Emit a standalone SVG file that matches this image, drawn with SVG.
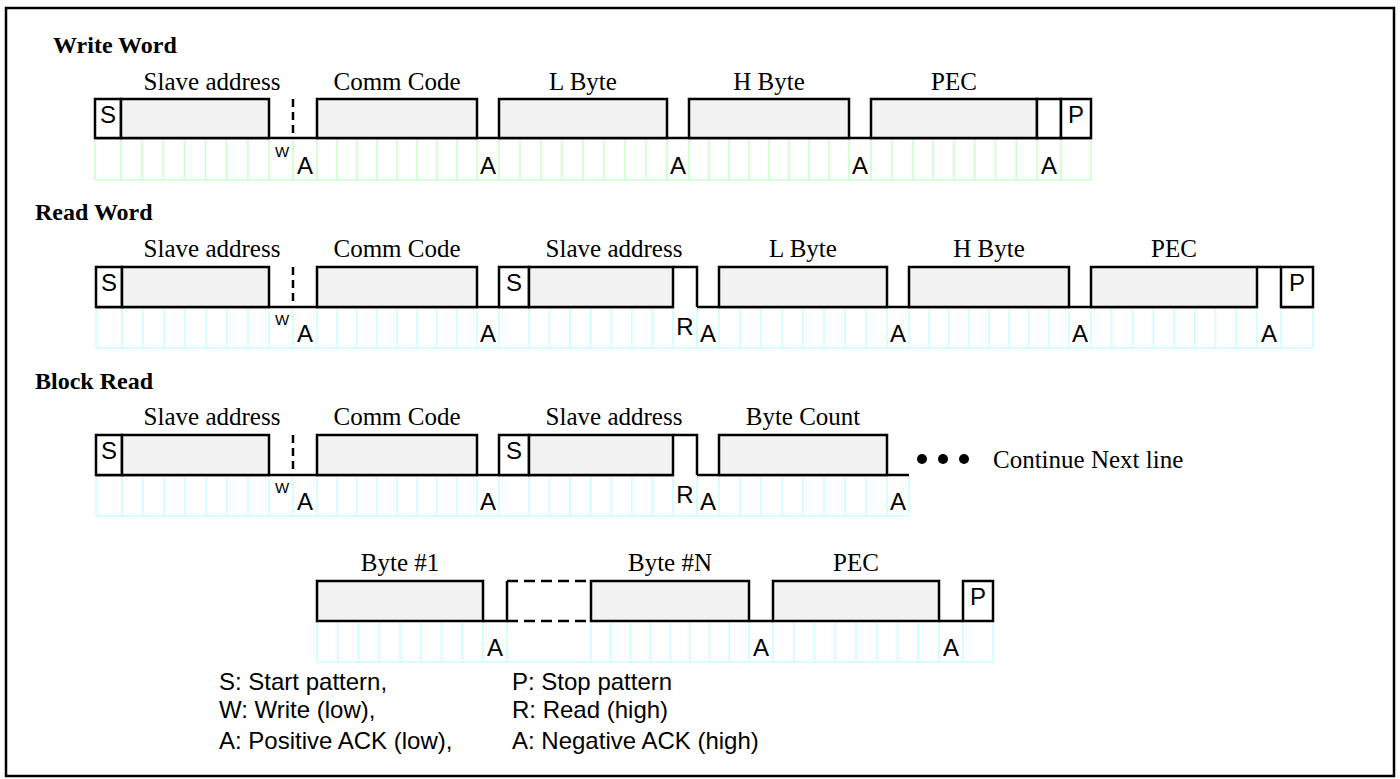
<svg xmlns="http://www.w3.org/2000/svg" width="1400" height="779" viewBox="0 0 1400 779">
<style>
.bg{fill:#ffffff}
.frame{fill:none;stroke:#000;stroke-width:2.5}
.fld{fill:#f2f2f2;stroke:#000;stroke-width:2.5}
.bit{fill:#ffffff;stroke:#000;stroke-width:2.5}
.wave{fill:none;stroke:#000;stroke-width:2.5}
.dash{fill:none;stroke:#000;stroke-width:2.5;stroke-dasharray:8 5}
.dash2{fill:none;stroke:#000;stroke-width:2.5;stroke-dasharray:11 6}
.gridg{fill:none;stroke:#ccffcc;stroke-width:1.6}
.gridc{fill:none;stroke:#ccffff;stroke-width:1.6}
.title{font-family:"Liberation Serif","Times New Roman",serif;font-weight:bold;font-size:24px;fill:#000}
.lbl{font-family:"Liberation Serif","Times New Roman",serif;font-size:25px;fill:#000;text-anchor:middle}
.sig{font-family:"Liberation Sans",Arial,sans-serif;font-size:24px;fill:#000;text-anchor:middle}
.sm{font-family:"Liberation Sans",Arial,sans-serif;font-size:15px;fill:#000;text-anchor:middle}
.leg{font-family:"Liberation Sans",Arial,sans-serif;font-size:24px;fill:#000}
</style>
<rect class="bg" x="0" y="0" width="1400" height="779"/>
<rect class="frame" x="6" y="8" width="1388" height="768"/>

<!-- Write Word -->
<g id="write-word">
  <text class="title" x="53" y="53">Write Word</text>
  <g id="ww-grid">
    <path class="gridg" d="M95 180H1091 M95 138v42 M121 138v42 M142.1 138v42 M163.3 138v42 M184.4 138v42 M205.6 138v42 M226.7 138v42 M247.9 138v42 M269 138v42 M293 138v42 M317 138v42 M337 138v42 M357 138v42 M377 138v42 M397 138v42 M417 138v42 M437 138v42 M457 138v42 M477 138v42 M499 138v42 M520 138v42 M541 138v42 M562 138v42 M583 138v42 M604 138v42 M625 138v42 M646 138v42 M667 138v42 M689 138v42 M709 138v42 M729 138v42 M749 138v42 M769 138v42 M789 138v42 M809 138v42 M829 138v42 M849 138v42 M871 138v42 M891.75 138v42 M912.5 138v42 M933.25 138v42 M954 138v42 M974.75 138v42 M995.5 138v42 M1016.25 138v42 M1037 138v42 M1061 138v42 M1091 138v42"/>
  </g>
  <path class="wave" d="M95 138H1091"/>
  <g id="ww-s"><rect class="bit" x="95" y="99" width="26" height="39"/><text class="sig" x="108" y="123">S</text></g>
  <g id="ww-addr"><rect class="fld" x="121" y="99" width="148" height="39"/><text class="lbl" x="212" y="90">Slave address</text></g>
  <g id="ww-w"><path class="dash" d="M293 99V138"/><text class="sm" x="282" y="157">W</text></g>
  <g id="ww-comm"><rect class="fld" x="317" y="99" width="160" height="39"/><text class="lbl" x="397" y="90">Comm Code</text></g>
  <g id="ww-lbyte"><rect class="fld" x="499" y="99" width="168" height="39"/><text class="lbl" x="583" y="90">L Byte</text></g>
  <g id="ww-hbyte"><rect class="fld" x="689" y="99" width="160" height="39"/><text class="lbl" x="769" y="90">H Byte</text></g>
  <g id="ww-pec"><rect class="fld" x="871" y="99" width="166" height="39"/><text class="lbl" x="954" y="90">PEC</text></g>
  <rect class="bit" x="1037" y="99" width="24" height="39"/>
  <g id="ww-p"><rect class="bit" x="1061" y="99" width="30" height="39"/><text class="sig" x="1076" y="123">P</text></g>
  <g id="ww-acks">
    <text class="sig" x="305" y="174">A</text><text class="sig" x="488" y="174">A</text><text class="sig" x="678" y="174">A</text><text class="sig" x="860" y="174">A</text><text class="sig" x="1049" y="174">A</text>
  </g>
</g>

<!-- Read Word -->
<g id="read-word">
  <text class="title" x="35" y="220">Read Word</text>
  <g id="rw-grid">
    <path class="gridc" d="M96 348H1313 M96 307v41 M122 307v41 M143 307v41 M164 307v41 M185 307v41 M206 307v41 M227 307v41 M248 307v41 M269 307v41 M293 307v41 M317 307v41 M337 307v41 M357 307v41 M377 307v41 M397 307v41 M417 307v41 M437 307v41 M457 307v41 M477 307v41 M499 307v41 M529 307v41 M549.6 307v41 M570.1 307v41 M590.7 307v41 M611.3 307v41 M631.9 307v41 M652.4 307v41 M673 307v41 M697 307v41 M719 307v41 M740 307v41 M761 307v41 M782 307v41 M803 307v41 M824 307v41 M845 307v41 M866 307v41 M887 307v41 M909 307v41 M929 307v41 M949 307v41 M969 307v41 M989 307v41 M1009 307v41 M1029 307v41 M1049 307v41 M1069 307v41 M1091 307v41 M1111.75 307v41 M1132.5 307v41 M1153.25 307v41 M1174 307v41 M1194.75 307v41 M1215.5 307v41 M1236.25 307v41 M1257 307v41 M1281 307v41 M1313 307v41"/>
  </g>
  <path class="wave" d="M96 307H673 M697 307H1257 M1281 307H1313"/>
  <g id="rw-s"><rect class="bit" x="96" y="267" width="26" height="40"/><text class="sig" x="109" y="291">S</text></g>
  <g id="rw-addr"><rect class="fld" x="122" y="267" width="147" height="40"/><text class="lbl" x="212" y="257">Slave address</text></g>
  <g id="rw-w"><path class="dash" d="M293 267V307"/><text class="sm" x="282" y="325">W</text></g>
  <g id="rw-comm"><rect class="fld" x="317" y="267" width="160" height="40"/><text class="lbl" x="397" y="257">Comm Code</text></g>
  <g id="rw-s2"><rect class="bit" x="499" y="267" width="30" height="40"/><text class="sig" x="514" y="291">S</text></g>
  <g id="rw-addr2"><rect class="fld" x="529" y="267" width="144" height="40"/><text class="lbl" x="614" y="257">Slave address</text></g>
  <g id="rw-r"><path class="wave" d="M673 267H697V307"/><text class="sig" x="685" y="335">R</text></g>
  <g id="rw-lbyte"><rect class="fld" x="719" y="267" width="168" height="40"/><text class="lbl" x="803" y="257">L Byte</text></g>
  <g id="rw-hbyte"><rect class="fld" x="909" y="267" width="160" height="40"/><text class="lbl" x="989" y="257">H Byte</text></g>
  <g id="rw-pec"><rect class="fld" x="1091" y="267" width="166" height="40"/><text class="lbl" x="1174" y="257">PEC</text></g>
  <path class="wave" d="M1257 267H1281"/>
  <g id="rw-p"><rect class="bit" x="1281" y="267" width="32" height="40"/><text class="sig" x="1297" y="291">P</text></g>
  <g id="rw-acks">
    <text class="sig" x="305" y="342">A</text><text class="sig" x="488" y="342">A</text><text class="sig" x="708" y="342">A</text><text class="sig" x="898" y="342">A</text><text class="sig" x="1080" y="342">A</text><text class="sig" x="1269" y="342">A</text>
  </g>
</g>

<!-- Block Read -->
<g id="block-read">
  <text class="title" x="35" y="389">Block Read</text>
  <g id="br-grid">
    <path class="gridc" d="M96 516H909 M96 475v41 M122 475v41 M143 475v41 M164 475v41 M185 475v41 M206 475v41 M227 475v41 M248 475v41 M269 475v41 M293 475v41 M317 475v41 M337 475v41 M357 475v41 M377 475v41 M397 475v41 M417 475v41 M437 475v41 M457 475v41 M477 475v41 M499 475v41 M529 475v41 M549.6 475v41 M570.1 475v41 M590.7 475v41 M611.3 475v41 M631.9 475v41 M652.4 475v41 M673 475v41 M697 475v41 M719 475v41 M740 475v41 M761 475v41 M782 475v41 M803 475v41 M824 475v41 M845 475v41 M866 475v41 M887 475v41 M909 475v41"/>
  </g>
  <path class="wave" d="M96 475H673 M697 475H909"/>
  <g id="br-s"><rect class="bit" x="96" y="435" width="26" height="40"/><text class="sig" x="109" y="459">S</text></g>
  <g id="br-addr"><rect class="fld" x="122" y="435" width="147" height="40"/><text class="lbl" x="212" y="425">Slave address</text></g>
  <g id="br-w"><path class="dash" d="M293 435V475"/><text class="sm" x="282" y="493">W</text></g>
  <g id="br-comm"><rect class="fld" x="317" y="435" width="160" height="40"/><text class="lbl" x="397" y="425">Comm Code</text></g>
  <g id="br-s2"><rect class="bit" x="499" y="435" width="30" height="40"/><text class="sig" x="514" y="459">S</text></g>
  <g id="br-addr2"><rect class="fld" x="529" y="435" width="144" height="40"/><text class="lbl" x="614" y="425">Slave address</text></g>
  <g id="br-r"><path class="wave" d="M673 435H697V475"/><text class="sig" x="685" y="503">R</text></g>
  <g id="br-count"><rect class="fld" x="719" y="435" width="168" height="40"/><text class="lbl" x="803" y="425">Byte Count</text></g>
  <g id="br-acks">
    <text class="sig" x="305" y="510">A</text><text class="sig" x="488" y="510">A</text><text class="sig" x="708" y="510">A</text><text class="sig" x="898" y="510">A</text>
  </g>
  <g id="br-continue">
    <circle cx="922" cy="459" r="5"/><circle cx="943" cy="459" r="5"/><circle cx="964" cy="459" r="5"/>
    <text class="lbl" x="993" y="468" style="text-anchor:start">Continue Next line</text>
  </g>
</g>

<!-- Block Read continuation -->
<g id="block-read-2">
  <g id="br2-grid">
    <path class="gridc" d="M317 662H993 M317 621v41 M337.75 621v41 M358.5 621v41 M379.25 621v41 M400 621v41 M420.75 621v41 M441.5 621v41 M462.25 621v41 M483 621v41 M507 621v41 M591 621v41 M610.75 621v41 M630.5 621v41 M650.25 621v41 M670 621v41 M689.75 621v41 M709.5 621v41 M729.25 621v41 M749 621v41 M773 621v41 M793.75 621v41 M814.5 621v41 M835.25 621v41 M856 621v41 M876.75 621v41 M897.5 621v41 M918.25 621v41 M939 621v41 M963 621v41 M993 621v41"/>
  </g>
  <path class="wave" d="M483 621H507V581 M749 621H773 M939 621H963"/>
  <path class="dash2" d="M507 581H591 M507 621H591"/>
  <g id="br2-byte1"><rect class="fld" x="317" y="581" width="166" height="40"/><text class="lbl" x="400" y="571">Byte #1</text></g>
  <g id="br2-byten"><rect class="fld" x="591" y="581" width="158" height="40"/><text class="lbl" x="670" y="571">Byte #N</text></g>
  <g id="br2-pec"><rect class="fld" x="773" y="581" width="166" height="40"/><text class="lbl" x="856" y="571">PEC</text></g>
  <g id="br2-p"><rect class="bit" x="963" y="581" width="30" height="40"/><text class="sig" x="978" y="605">P</text></g>
  <g id="br2-acks">
    <text class="sig" x="495" y="656">A</text><text class="sig" x="761" y="656">A</text><text class="sig" x="951" y="656">A</text>
  </g>
</g>

<!-- Legend -->
<g id="legend">
  <text class="leg" x="219" y="690">S: Start pattern,</text>
  <text class="leg" x="512" y="690">P: Stop pattern</text>
  <text class="leg" x="219" y="718">W: Write (low),</text>
  <text class="leg" x="512" y="718">R: Read (high)</text>
  <text class="leg" x="219" y="749">A: Positive ACK (low),</text>
  <text class="leg" x="512" y="749">A: Negative ACK (high)</text>
</g>
</svg>
